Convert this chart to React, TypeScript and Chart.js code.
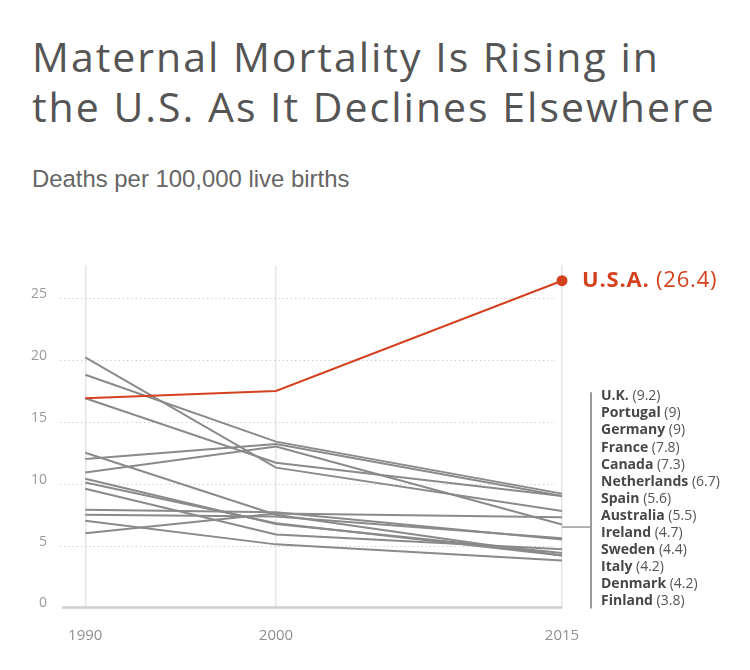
import React, { useEffect, useRef } from "react";
import { Chart, registerables } from "chart.js";

Chart.register(...registerables);

// ---- Data ----
const YEARS = [1990, 2000, 2015];
const X_TICKS = [1990, 2000, 2015];
const Y_TICKS = [0, 5, 10, 15, 20, 25];

const USA_LABEL = "U.S.A.";
const USA_VALUES = [16.9, 17.5, 26.4];

const COUNTRIES = [
  "U.K.",
  "Portugal",
  "Germany",
  "France",
  "Canada",
  "Netherlands",
  "Spain",
  "Australia",
  "Ireland",
  "Sweden",
  "Italy",
  "Denmark",
  "Finland",
];
const UK = [18.8, 13.4, 9.2];
const PORTUGAL = [12.0, 13.2, 9];
const GERMANY = [16.9, 11.7, 9];
const FRANCE = [20.2, 11.3, 7.8];
const CANADA = [6.0, 7.6, 7.3];
const NETHERLANDS = [10.9, 13.0, 6.7];
const SPAIN = [7.5, 7.35, 5.6];
const AUSTRALIA = [7.9, 7.7, 5.5];
const IRELAND = [9.6, 5.9, 4.7];
const SWEDEN = [10.4, 6.75, 4.4];
const ITALY = [10.1, 6.8, 4.2];
const DENMARK = [12.5, 7.5, 4.2];
const FINLAND = [7.0, 5.1, 3.8];
const COUNTRY_VALUES = [
  UK,
  PORTUGAL,
  GERMANY,
  FRANCE,
  CANADA,
  NETHERLANDS,
  SPAIN,
  AUSTRALIA,
  IRELAND,
  SWEDEN,
  ITALY,
  DENMARK,
  FINLAND,
];

const TITLE_LINES = ["Maternal Mortality Is Rising in", "the U.S. As It Declines Elsewhere"];
const SUBTITLE = "Deaths per 100,000 live births";

// ---- Styles ----
const RED = "#d4411f";
const GRAY_LINE = "#8a8a8a";
const FONT = '"Open Sans", "Noto Sans", sans-serif';
const BRACKET_VALUE = 6.5;

const toPoints = (vals: number[]) => YEARS.map((yr, i) => ({ x: yr, y: vals[i] }));

const overlayPlugin = {
  id: "overlay",
  beforeDatasetsDraw(chart: any) {
    const { ctx, chartArea } = chart;
    const xs = chart.scales.x;
    const ys = chart.scales.y;
    const xEnd = xs.getPixelForValue(YEARS[YEARS.length - 1]);
    ctx.save();
    // dotted horizontal grid lines
    ctx.strokeStyle = "#c8c8c8";
    ctx.lineWidth = 1.2;
    ctx.setLineDash([1.2, 3]);
    ys.ticks.forEach((t: any) => {
      if (t.value === 0) return;
      const py = Math.round(ys.getPixelForValue(t.value)) + 0.5;
      ctx.beginPath();
      ctx.moveTo(chartArea.left - 2, py);
      ctx.lineTo(xEnd - 6, py);
      ctx.stroke();
    });
    ctx.setLineDash([]);
    // zero baseline
    const p0 = ys.getPixelForValue(0);
    ctx.strokeStyle = "#cfcfcf";
    ctx.lineWidth = 2.5;
    ctx.beginPath();
    ctx.moveTo(chartArea.left, p0);
    ctx.lineTo(xEnd, p0);
    ctx.stroke();
    ctx.restore();
  },
  afterDatasetsDraw(chart: any) {
    const { ctx } = chart;
    const xs = chart.scales.x;
    const ys = chart.scales.y;
    const xEnd = xs.getPixelForValue(YEARS[YEARS.length - 1]);
    ctx.save();
    ctx.textBaseline = "middle";
    ctx.textAlign = "left";

    // USA label
    const uy = ys.getPixelForValue(USA_VALUES[USA_VALUES.length - 1]);
    ctx.fillStyle = RED;
    (ctx as any).letterSpacing = "0.8px";
    ctx.font = `bold 22px ${FONT}`;
    const ux = xEnd + 20;
    ctx.fillText(USA_LABEL, ux, uy);
    const w = ctx.measureText(USA_LABEL).width;
    ctx.font = `22px ${FONT}`;
    ctx.fillText(` (${USA_VALUES[USA_VALUES.length - 1]})`, ux + w, uy);
    (ctx as any).letterSpacing = "0px";

    // bracket
    const by = ys.getPixelForValue(BRACKET_VALUE);
    const lineX = xEnd + 29;
    const step = 17.1;
    const lastY = ys.getPixelForValue(0) - 6;
    const firstY = lastY - step * (COUNTRIES.length - 1);
    ctx.strokeStyle = "#9a9a9a";
    ctx.lineWidth = 1.5;
    ctx.beginPath();
    ctx.moveTo(xEnd, by);
    ctx.lineTo(lineX, by);
    ctx.stroke();
    ctx.lineWidth = 2;
    ctx.beginPath();
    ctx.moveTo(lineX, firstY - 4);
    ctx.lineTo(lineX, lastY + 7);
    ctx.stroke();

    // country labels
    COUNTRIES.forEach((name, i) => {
      const vals = COUNTRY_VALUES[i];
      const py = firstY + i * step;
      const tx = lineX + 10;
      ctx.fillStyle = "#474747";
      ctx.font = `bold 14px ${FONT}`;
      ctx.fillText(name, tx, py);
      const nw = ctx.measureText(name).width;
      ctx.fillStyle = "#555";
      ctx.font = `14px ${FONT}`;
      ctx.fillText(` (${vals[vals.length - 1]})`, tx + nw, py);
    });
    ctx.restore();
  },
};

export default function App() {
  const canvasRef = useRef<HTMLCanvasElement | null>(null);

  useEffect(() => {
    if (!canvasRef.current) return;
    const datasets: any[] = [
      {
        label: USA_LABEL,
        data: toPoints(USA_VALUES),
        borderColor: RED,
        backgroundColor: RED,
        borderWidth: 2,
        pointRadius: [0, 0, 5.5],
        pointBorderWidth: 0,
        pointHoverRadius: 0,
        clip: false,
      },
      ...COUNTRIES.map((name, i) => ({
        label: name,
        data: toPoints(COUNTRY_VALUES[i]),
        borderColor: GRAY_LINE,
        backgroundColor: GRAY_LINE,
        borderWidth: 2,
        pointRadius: 0,
        pointHoverRadius: 0,
        clip: false,
      })),
    ];

    const chart = new Chart(canvasRef.current, {
      type: "line",
      data: { datasets },
      options: {
        animation: false,
        responsive: false,
        devicePixelRatio: 1,
        events: [],
        layout: { padding: { top: 265, right: 188, bottom: 0, left: 0 } },
        plugins: {
          legend: { display: false },
          tooltip: { enabled: false },
          title: { display: false },
        },
        elements: { line: { tension: 0 } },
        scales: {
          x: {
            type: "linear",
            min: 1988.78,
            max: 2015,
            afterBuildTicks: (s: any) => {
              s.ticks = X_TICKS.map((v) => ({ value: v }));
            },
            afterFit: (s: any) => {
              s.height = 62.5;
            },
            grid: { display: true, color: "#e6e6e6", lineWidth: 1.5, drawTicks: false },
            border: { display: false },
            ticks: {
              callback: (v: any) => String(v),
              color: "#8f8f8f",
              font: { family: FONT, size: 15 },
              padding: 19,
              maxRotation: 0,
              autoSkip: false,
            },
          },
          y: {
            type: "linear",
            min: 0,
            max: 27.67,
            afterBuildTicks: (s: any) => {
              s.ticks = Y_TICKS.map((v) => ({ value: v }));
            },
            afterFit: (s: any) => {
              s.width = 62;
            },
            grid: { display: false, drawTicks: false },
            border: { display: false },
            ticks: {
              callback: (v: any) => String(v),
              color: "#9a9a9a",
              font: { family: FONT, size: 14 },
              padding: 15,
              labelOffset: -4,
            },
          },
        },
      },
      plugins: [overlayPlugin],
    } as any);

    return () => chart.destroy();
  }, []);

  return (
    <div
      style={{
        position: "fixed",
        left: 0,
        top: 0,
        width: 750,
        height: 670,
        background: "#fff",
        overflow: "hidden",
      }}
    >
      <div
        style={{
          position: "absolute",
          left: 32,
          top: 31,
          fontFamily: FONT,
          fontSize: 41,
          lineHeight: "50px",
          letterSpacing: "2px",
          color: "#555",
          fontWeight: 400,
          whiteSpace: "nowrap",
        }}
      >
        {TITLE_LINES.map((t) => (
          <div key={t}>{t}</div>
        ))}
      </div>
      <div
        style={{
          position: "absolute",
          left: 32,
          top: 167,
          fontFamily: '"Liberation Sans", Arial, sans-serif',
          fontSize: 23.9,
          lineHeight: "23.5px",
          color: "#666",
          whiteSpace: "nowrap",
        }}
      >
        {SUBTITLE}
      </div>
      <canvas
        ref={canvasRef}
        width={750}
        height={670}
        style={{ position: "absolute", left: 0, top: 0, width: 750, height: 670 }}
      />
    </div>
  );
}
